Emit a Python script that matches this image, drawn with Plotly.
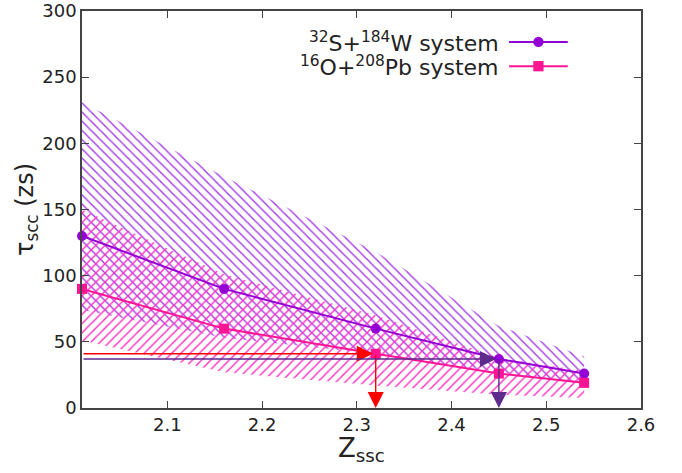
import plotly.graph_objects as go

# Z_ssc values shared by both systems
z_ssc = [2.01, 2.16, 2.32, 2.45, 2.54]

# 32S + 184W system: central values and uncertainty band (zs)
tau_sw = [130, 90, 60, 37, 26]
tau_sw_upper = [231, 175, 118, 62, 39]
tau_sw_lower = [74, 53, 41, 27, 18]

# 16O + 208Pb system: central values and uncertainty band (zs)
tau_opb = [90, 60, 41, 26, 19]
tau_opb_upper = [150, 101, 70, 38, 28]
tau_opb_lower = [51, 27, 17, 10, 7.5]

x_ticks = [2.1, 2.2, 2.3, 2.4, 2.5, 2.6]
y_ticks = [0, 50, 100, 150, 200, 250, 300]

PURPLE = "#9400d3"
PURPLE_HATCH = "#a63ae6"
PINK = "#ff1493"
PINK_HATCH = "#ff2ec4"
RED = "#ff0000"
DARK_PURPLE = "#5e2a8c"
AXIS = "#444444"
TEXT = "#222222"
FONT = "DejaVu Sans"

fig = go.Figure()


def band(x, lo, hi, color, shape):
    return go.Scatter(
        x=list(x) + list(x)[::-1],
        y=list(hi) + list(lo)[::-1],
        fill="toself",
        mode="none",
        fillcolor="rgba(0,0,0,0)",
        fillpattern=dict(shape=shape, size=6.5, solidity=0.22,
                         fgcolor=color, bgcolor="rgba(0,0,0,0)", fgopacity=1),
        hoverinfo="skip",
        showlegend=False,
    )


fig.add_trace(band(z_ssc, tau_sw_lower, tau_sw_upper, PURPLE_HATCH, "\\"))
fig.add_trace(band(z_ssc, tau_opb_lower, tau_opb_upper, PINK_HATCH, "/"))

fig.add_trace(go.Scatter(
    x=z_ssc, y=tau_sw, mode="lines+markers",
    line=dict(color=PURPLE, width=2),
    marker=dict(symbol="circle", size=10, color=PURPLE),
    showlegend=False, cliponaxis=False,
))
fig.add_trace(go.Scatter(
    x=z_ssc, y=tau_opb, mode="lines+markers",
    line=dict(color=PINK, width=2),
    marker=dict(symbol="square", size=10, color=PINK),
    showlegend=False, cliponaxis=False,
))

x0 = z_ssc[0]
annotations = []
# projections of the marked crossing points onto the axes
for xv, yv, col in [(z_ssc[2], tau_opb[2], RED), (z_ssc[3], tau_sw[3], DARK_PURPLE)]:
    annotations.append(dict(
        x=xv - 0.003, y=yv, ax=x0, ay=yv, xref="x", yref="y", axref="x", ayref="y",
        showarrow=True, arrowhead=2, arrowsize=2.3, arrowwidth=1.4, arrowcolor=col, text="",
    ))
    annotations.append(dict(
        x=xv, y=0, ax=xv, ay=yv, xref="x", yref="y", axref="x", ayref="y",
        showarrow=True, arrowhead=2, arrowsize=2.3, arrowwidth=1.4, arrowcolor=col, text="",
    ))

# x-axis title placed just under the tick labels
annotations.append(dict(
    x=0.5, y=-0.057, xref="paper", yref="paper", text="Z<sub>ssc</sub>", showarrow=False,
    xanchor="center", yanchor="top", font=dict(family=FONT, size=26, color=TEXT),
))

# legend drawn in gnuplot style: text on the left, sample on the right
legend_rows = [
    ("<sup>32</sup>S+<sup>184</sup>W system", PURPLE, "circle", 0.922),
    ("<sup>16</sup>O+<sup>208</sup>Pb system", PINK, "square", 0.861),
]
shapes = []
for text, col, sym, yp in legend_rows:
    annotations.append(dict(
        x=0.750, y=yp, xref="paper", yref="paper", text=text, showarrow=False,
        xanchor="right", yanchor="middle", font=dict(family=FONT, size=22, color=TEXT),
    ))
    shapes.append(dict(type="line", xref="paper", yref="paper",
                       x0=0.764, x1=0.869, y0=yp, y1=yp, line=dict(color=col, width=2)))
    r = 0.0092
    ry = r * 559 / 397
    shapes.append(dict(type="circle" if sym == "circle" else "rect", xref="paper", yref="paper",
                       x0=0.8165 - r, x1=0.8165 + r, y0=yp - ry, y1=yp + ry,
                       fillcolor=col, line=dict(color=col, width=0)))

fig.update_layout(
    width=682, height=473,
    margin=dict(l=82, r=41, t=11, b=65, autoexpand=False),
    paper_bgcolor="white", plot_bgcolor="white",
    font=dict(family=FONT, size=18, color=TEXT),
    showlegend=False,
    annotations=annotations,
    shapes=shapes,
    xaxis=dict(
        range=[2.01, 2.6], tickvals=x_ticks, ticktext=[f"{v:.1f}" for v in x_ticks],
        ticks="inside", ticklen=7, tickcolor=AXIS, tickwidth=1.2,
        showline=True, linecolor=AXIS, linewidth=1.5, mirror="ticks",
        showgrid=False, zeroline=False,
        tickfont=dict(family=FONT, size=18, color=TEXT),
    ),
    yaxis=dict(
        range=[0, 300], tickvals=y_ticks,
        ticks="inside", ticklen=7, tickcolor=AXIS, tickwidth=1.2,
        showline=True, linecolor=AXIS, linewidth=1.5, mirror="ticks",
        showgrid=False, zeroline=False,
        tickfont=dict(family=FONT, size=18, color=TEXT),
        title=dict(text="τ<sub>scc</sub> (zs)", font=dict(family=FONT, size=24, color=TEXT), standoff=0),
    ),
)

fig.write_html("out.html")
